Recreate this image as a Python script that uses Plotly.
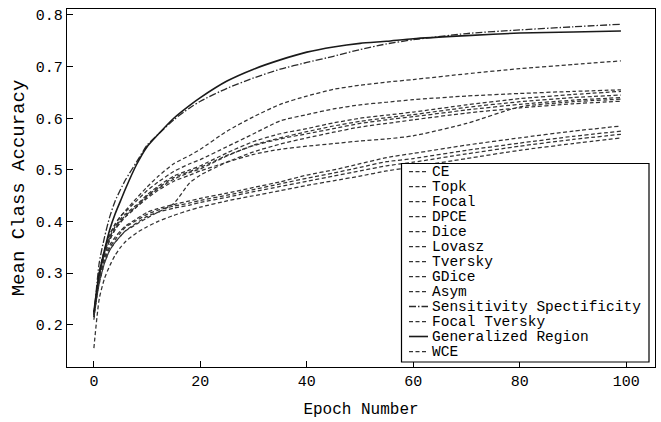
import plotly.graph_objects as go

# ---------------- data ----------------
epochs = [0, 1, 2, 3, 4, 5, 6, 8, 10, 12, 15, 18, 20, 25, 30, 35, 40, 45, 50, 55, 60, 70, 80, 90, 99]

ce = [0.22, 0.30, 0.345, 0.375, 0.395, 0.41, 0.42, 0.44, 0.46, 0.476, 0.497, 0.512, 0.52, 0.545, 0.57,
      0.595, 0.607, 0.618, 0.626, 0.631, 0.636, 0.643, 0.648, 0.652, 0.655]
topk = [0.21, 0.29, 0.34, 0.37, 0.39, 0.405, 0.415, 0.432, 0.452, 0.468, 0.488, 0.50, 0.508, 0.533, 0.555,
        0.57, 0.58, 0.591, 0.60, 0.606, 0.612, 0.626, 0.638, 0.646, 0.652]
focal = [0.22, 0.29, 0.335, 0.365, 0.385, 0.40, 0.41, 0.428, 0.448, 0.463, 0.482, 0.495, 0.502, 0.527, 0.548,
         0.562, 0.574, 0.585, 0.594, 0.601, 0.607, 0.621, 0.632, 0.64, 0.645]
dpce = [0.225, 0.295, 0.34, 0.37, 0.39, 0.402, 0.412, 0.43, 0.45, 0.465, 0.485, 0.497, 0.505, 0.528, 0.547,
        0.56, 0.57, 0.58, 0.59, 0.597, 0.603, 0.616, 0.627, 0.635, 0.64]
dice = [0.22, 0.29, 0.33, 0.355, 0.37, 0.382, 0.392, 0.405, 0.418, 0.425, 0.433, 0.44, 0.445, 0.455, 0.466,
        0.477, 0.49, 0.50, 0.512, 0.524, 0.532, 0.548, 0.562, 0.575, 0.585]
lovasz = [0.22, 0.285, 0.325, 0.35, 0.365, 0.378, 0.39, 0.402, 0.414, 0.422, 0.43, 0.436, 0.441, 0.451, 0.462,
          0.473, 0.484, 0.494, 0.505, 0.516, 0.522, 0.538, 0.552, 0.565, 0.575]
tversky = [0.215, 0.28, 0.32, 0.345, 0.36, 0.372, 0.383, 0.397, 0.41, 0.418, 0.426, 0.432, 0.437, 0.447, 0.458,
           0.468, 0.478, 0.488, 0.498, 0.508, 0.515, 0.531, 0.546, 0.559, 0.569]
gdice = [0.22, 0.28, 0.32, 0.345, 0.36, 0.372, 0.382, 0.395, 0.407, 0.418, 0.435, 0.475, 0.49, 0.515, 0.535,
         0.55, 0.562, 0.573, 0.583, 0.59, 0.597, 0.61, 0.62, 0.628, 0.633]
asym = [0.22, 0.29, 0.335, 0.365, 0.385, 0.398, 0.41, 0.428, 0.445, 0.46, 0.478, 0.49, 0.498, 0.515, 0.53,
        0.54, 0.546, 0.551, 0.556, 0.56, 0.566, 0.59, 0.622, 0.632, 0.637]
sens_spec = [0.215, 0.32, 0.37, 0.41, 0.44, 0.462, 0.482, 0.515, 0.548, 0.568, 0.597, 0.62, 0.633, 0.658, 0.678,
             0.695, 0.708, 0.72, 0.733, 0.744, 0.752, 0.764, 0.771, 0.777, 0.782]
focal_tversky = [0.22, 0.30, 0.345, 0.375, 0.395, 0.41, 0.422, 0.445, 0.467, 0.487, 0.512, 0.528, 0.54, 0.575,
                 0.603, 0.627, 0.643, 0.656, 0.664, 0.670, 0.675, 0.686, 0.696, 0.704, 0.711]
gen_region = [0.225, 0.30, 0.345, 0.385, 0.415, 0.44, 0.465, 0.51, 0.545, 0.568, 0.60, 0.625, 0.64, 0.672, 0.695,
              0.713, 0.728, 0.738, 0.745, 0.749, 0.754, 0.760, 0.765, 0.767, 0.769]
wce = [0.155, 0.25, 0.29, 0.315, 0.335, 0.35, 0.362, 0.378, 0.39, 0.40, 0.412, 0.422, 0.428, 0.44, 0.45,
       0.46, 0.47, 0.479, 0.488, 0.498, 0.506, 0.522, 0.538, 0.551, 0.562]

names = ["CE", "Topk", "Focal", "DPCE", "Dice", "Lovasz", "Tversky", "GDice", "Asym",
         "Sensitivity Spectificity", "Focal Tversky", "Generalized Region", "WCE"]
values = [ce, topk, focal, dpce, dice, lovasz, tversky, gdice, asym,
          sens_spec, focal_tversky, gen_region, wce]

x_ticks = [0, 20, 40, 60, 80, 100]
y_ticks = [0.2, 0.3, 0.4, 0.5, 0.6, 0.7, 0.8]
y_tick_text = ["0.2", "0.3", "0.4", "0.5", "0.6", "0.7", "0.8"]

# ---------------- styles ----------------
FONT = "Liberation Mono"
DASHED = "4px,2.5px"
DASHDOT = "7px,2px,1.5px,2px"


def style(name):
    if name == "Generalized Region":
        return dict(color="#1a1a1a", width=1.6, dash="solid")
    if name == "Sensitivity Spectificity":
        return dict(color="#2a2a2a", width=1.3, dash=DASHDOT)
    return dict(color="#333333", width=1.25, dash=DASHED)


fig = go.Figure()
for name, vals in zip(names, values):
    fig.add_trace(go.Scatter(x=epochs, y=vals, mode="lines", name=name,
                             line=dict(shape="spline", smoothing=0.6, **style(name)),
                             showlegend=False))

# ---------------- layout ----------------
W, H = 661, 422
ML, MR, MT, MB = 67, 6, 9, 55
PW, PH = W - ML - MR, H - MT - MB


def xp(px):
    return (px - ML) / PW


def yp(py):
    return (H - MB - py) / PH


axis_common = dict(showgrid=False, zeroline=False, showline=True, mirror=True,
                   linecolor="black", linewidth=1.3, ticks="inside", ticklen=6,
                   tickcolor="black", tickwidth=1.2,
                   tickfont=dict(family=FONT, size=15, color="black"))

fig.update_layout(
    width=W, height=H,
    margin=dict(l=ML, r=MR, t=MT, b=MB),
    paper_bgcolor="white", plot_bgcolor="white",
    showlegend=False,
    xaxis=dict(range=[-5.05, 105.4], tickvals=x_ticks,
               title=dict(text="Epoch Number", font=dict(family=FONT, size=16, color="black"), standoff=12),
               **axis_common),
    yaxis=dict(range=[0.1185, 0.8115], tickvals=y_ticks, ticktext=y_tick_text,
               title=dict(text="Mean Class Accuracy", font=dict(family=FONT, size=19, color="black"), standoff=6),
               **axis_common),
)

# ---------------- custom compact legend ----------------
shapes = [dict(type="rect", xref="paper", yref="paper",
               x0=xp(401.5), x1=xp(649), y0=yp(362), y1=yp(163.5),
               line=dict(color="black", width=1.2), fillcolor="white", layer="above")]
annotations = []
for i, name in enumerate(names):
    cy = 171.5 + i * 15.0
    st = style(name)
    shapes.append(dict(type="line", xref="paper", yref="paper",
                       x0=xp(409), x1=xp(428), y0=yp(cy), y1=yp(cy),
                       line=dict(color=st["color"], width=st["width"], dash=st["dash"]),
                       layer="above"))
    annotations.append(dict(xref="paper", yref="paper", x=xp(431), y=yp(cy),
                            text=name, showarrow=False, xanchor="left", yanchor="middle",
                            borderpad=0,
                            font=dict(family=FONT, size=14.5, color="black")))

fig.update_layout(shapes=shapes, annotations=annotations)

fig.write_html("out.html")
